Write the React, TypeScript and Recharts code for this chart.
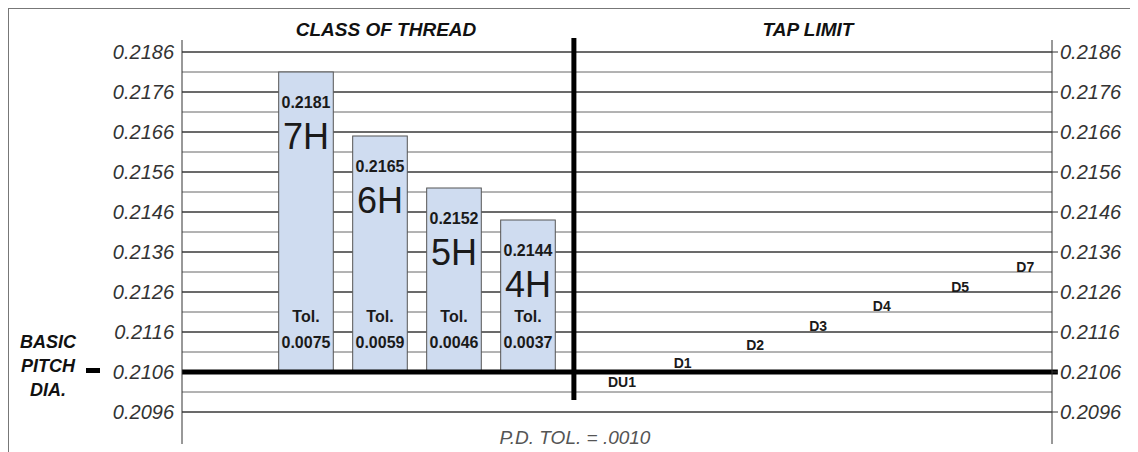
import { ComposedChart, Bar, Scatter, XAxis, YAxis, CartesianGrid, ReferenceLine } from 'recharts'

// thread classes (left panel)
const classes = ['7H', '6H', '5H', '4H']
const classSlot = [0, 1, 2, 3]
const classTop = [0.2181, 0.2165, 0.2152, 0.2144]
const classTol = ['0.0075', '0.0059', '0.0046', '0.0037']
const basicPD = 0.2106

// tap limits (right panel), label positions
const tapLimits = ['DU1', 'D1', 'D2', 'D3', 'D4', 'D5', 'D7']
const tapSlot = [4.27, 5.09, 6.07, 6.92, 7.78, 8.84, 9.72]
const tapLabelY = [0.21035, 0.21082, 0.21127, 0.21175, 0.21225, 0.21272, 0.21323]

const majorTicks = [0.2096, 0.2106, 0.2116, 0.2126, 0.2136, 0.2146, 0.2156, 0.2166, 0.2176, 0.2186]
const minorTicks = [0.2101, 0.2111, 0.2121, 0.2131, 0.2141, 0.2151, 0.2161, 0.2171, 0.2181]
const gridTicks = [...majorTicks, ...minorTicks].sort((a, b) => a - b)

const yDomain = [0.2088, 0.2189]
const xDomain = [-1.676, 10.081]
const dividerSlot = 3.62

const classData = classes.map((name, i) => ({
  name,
  x: classSlot[i],
  range: [basicPD, classTop[i]],
  top: classTop[i],
  tol: classTol[i],
}))

const tapData = tapLimits.map((name, i) => ({ name, x: tapSlot[i], y: tapLabelY[i] }))

const font = '"Liberation Sans", Arial, Helvetica, sans-serif'

const ClassBar = (props: any) => {
  const { x, width, payload } = props
  let { y, height } = props
  if (height < 0) {
    y = y + height
    height = -height
  }
  const cx = x + width / 2
  const bottom = y + height
  return (
    <g>
      <rect x={x} y={y} width={width} height={height} fill="#cfdcf0" stroke="#555" strokeWidth={1} />
      <text x={cx} y={y + 30} textAnchor="middle" dominantBaseline="central" fontSize={16} fontWeight={700} fill="#1a1a1a" fontFamily={font}>
        {payload.top.toFixed(4)}
      </text>
      <text x={cx} y={y + 64} textAnchor="middle" dominantBaseline="central" fontSize={36} fill="#1a1a1a" fontFamily={font}>
        {payload.name}
      </text>
      <text x={cx} y={bottom - 56} textAnchor="middle" dominantBaseline="central" fontSize={16} fontWeight={700} fill="#1a1a1a" fontFamily={font}>
        Tol.
      </text>
      <text x={cx} y={bottom - 30} textAnchor="middle" dominantBaseline="central" fontSize={16} fontWeight={700} fill="#1a1a1a" fontFamily={font}>
        {payload.tol}
      </text>
    </g>
  )
}

const TapLabel = (props: any) => {
  const { cx, cy, payload } = props
  return (
    <text x={cx} y={cy} textAnchor="middle" dominantBaseline="central" fontSize={14} fontWeight={700} fill="#1a1a1a" fontFamily={font}>
      {payload.name}
    </text>
  )
}

const centered = (left: number, top: number): React.CSSProperties => ({
  position: 'absolute',
  left,
  top,
  transform: 'translate(-50%, -50%)',
  whiteSpace: 'nowrap',
  lineHeight: 1,
  fontFamily: font,
})

export default function App() {
  const tickStyle = { fontSize: 20, fontStyle: 'italic', fill: '#333', fontFamily: font }
  return (
    <div
      style={{
        position: 'relative',
        width: 1129,
        height: 443,
        borderTop: '1px solid #777',
        borderLeft: '1px solid #777',
        background: '#fff',
      }}
    >
      <ComposedChart
        width={1129}
        height={443}
        data={classData}
        margin={{ top: 31, right: 0, bottom: 8, left: 0 }}
        style={{ position: 'absolute', left: 0, top: 0 }}
      >
        {/* half-step lines (gray), whole-step lines (dark) on top */}
        <CartesianGrid yAxisId="left" vertical={false} stroke="#666" syncWithTicks />
        <CartesianGrid yAxisId="right" vertical={false} stroke="#222" syncWithTicks />
        <XAxis type="number" dataKey="x" domain={xDomain} allowDataOverflow hide />
        <YAxis
          yAxisId="left"
          type="number"
          domain={yDomain}
          allowDataOverflow
          ticks={gridTicks}
          interval={0}
          width={173}
          tickLine={false}
          axisLine={{ stroke: '#333' }}
          tick={tickStyle}
          tickFormatter={(v: number) => (majorTicks.includes(v) ? v.toFixed(4) : '')}
        />
        <YAxis
          yAxisId="right"
          orientation="right"
          type="number"
          domain={yDomain}
          allowDataOverflow
          ticks={majorTicks}
          interval={0}
          width={86}
          tickSize={6}
          tickLine={{ stroke: '#333' }}
          axisLine={{ stroke: '#333' }}
          tick={tickStyle}
          tickFormatter={(v: number) => v.toFixed(4)}
        />
        <Bar yAxisId="left" dataKey="range" barSize={62} shape={ClassBar} isAnimationActive={false} />
        <ReferenceLine
          yAxisId="left"
          segment={[
            { x: xDomain[0], y: basicPD },
            { x: 10.16, y: basicPD },
          ]}
          stroke="#000"
          strokeWidth={5}
          ifOverflow="visible"
        />
        <ReferenceLine
          yAxisId="left"
          segment={[
            { x: dividerSlot, y: 0.2099 },
            { x: dividerSlot, y: 0.21895 },
          ]}
          stroke="#000"
          strokeWidth={5}
          ifOverflow="visible"
        />
        <Scatter yAxisId="left" data={tapData} dataKey="y" shape={TapLabel} isAnimationActive={false} />
      </ComposedChart>

      <div style={{ ...centered(377, 19.5), fontSize: 19, fontWeight: 700, fontStyle: 'italic', color: '#111' }}>
        CLASS OF THREAD
      </div>
      <div style={{ ...centered(799, 19.5), fontSize: 19, fontWeight: 700, fontStyle: 'italic', color: '#111' }}>
        TAP LIMIT
      </div>
      <div style={{ ...centered(566, 428), fontSize: 19, fontStyle: 'italic', color: '#555' }}>
        P.D. TOL. = .0010
      </div>
      <div style={{ ...centered(39, 333), fontSize: 18, fontWeight: 700, fontStyle: 'italic', color: '#111' }}>BASIC</div>
      <div style={{ ...centered(39, 357), fontSize: 18, fontWeight: 700, fontStyle: 'italic', color: '#111' }}>PITCH</div>
      <div style={{ ...centered(39, 381), fontSize: 18, fontWeight: 700, fontStyle: 'italic', color: '#111' }}>DIA.</div>
      <div style={{ position: 'absolute', left: 77, top: 358.5, width: 14, height: 5, background: '#000' }} />
    </div>
  )
}
